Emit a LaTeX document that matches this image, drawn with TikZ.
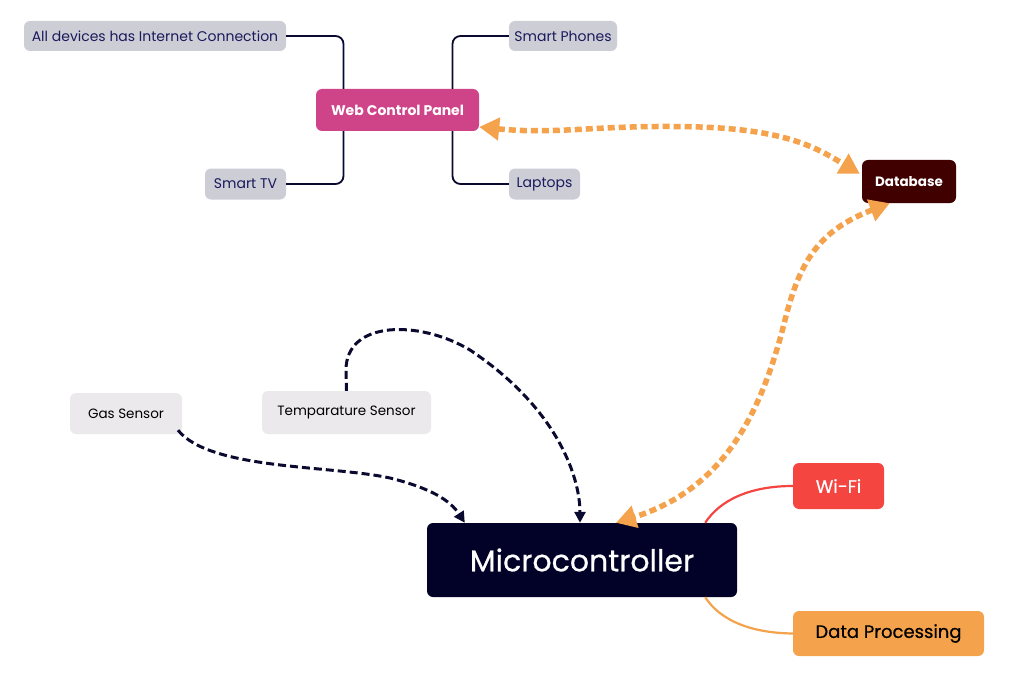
\documentclass[tikz,border=0pt]{standalone}
\usepackage{fontspec}
\setmainfont{Poppins}
\usetikzlibrary{arrows.meta}
\definecolor{navy}{HTML}{0A0A30}
\definecolor{gbox}{HTML}{CDCDD6}
\definecolor{lbox}{HTML}{EBE9EC}
\definecolor{gtext}{HTML}{1A1A5C}
\definecolor{wcp}{HTML}{CF4389}
\definecolor{dbc}{HTML}{400000}
\definecolor{mcc}{HTML}{020228}
\definecolor{wifi}{HTML}{F44541}
\definecolor{orng}{HTML}{F5A24D}
\newfontfamily\medfont{Poppins}[FakeBold=0.6]
\tikzset{
  box/.style={rectangle, rounded corners=6pt, inner sep=0pt, align=center},
  gray/.style={box, fill=gbox, text=gtext, font=\fontsize{14}{16}\selectfont},
  sens/.style={box, fill=lbox, text=black, font=\fontsize{13.5}{16}\selectfont},
  branch/.style={draw=navy, line width=1.8pt, rounded corners=8pt},
  odash/.style={draw=orng, line width=5.5pt, dash pattern=on 7pt off 4pt, {Triangle[length=20pt,width=22pt]}-{Triangle[length=20pt,width=22pt]}},
  ndash/.style={draw=navy, line width=3pt, dash pattern=on 8pt off 4pt, -{Triangle[length=11pt,width=11pt]}},
}
\begin{document}
\begin{tikzpicture}[x=1pt,y=-1pt]
\useasboundingbox (0,0) rectangle (1020,698);
\node[gray, minimum width=262pt, minimum height=30pt] (all) at (155,36) {All devices has Internet Connection};
\node[gray, minimum width=108pt, minimum height=30pt] (phones) at (563,36) {Smart Phones};
\node[gray, minimum width=81pt, minimum height=31pt] (tv) at (245.5,184) {Smart TV};
\node[gray, minimum width=71pt, minimum height=31pt] (laptops) at (544.5,184) {Laptops};
\node[box, fill=wcp, text=white, font=\fontsize{14}{16}\selectfont\bfseries, minimum width=163pt, minimum height=42pt] (wcp) at (397.5,110) {Web Control Panel};
\node[box, fill=dbc, text=white, font=\fontsize{13.5}{16}\selectfont\bfseries, minimum width=94pt, minimum height=43pt] (db) at (909,181.5) {Database};
\node[sens, minimum width=112pt, minimum height=41pt] (gas) at (126,413.5) {Gas Sensor};
\node[sens, minimum width=169pt, minimum height=43pt] (temp) at (346.5,412.5) {Temparature Sensor};
\node[box, fill=mcc, text=white, font=\medfont\fontsize{30}{34}\selectfont, minimum width=310pt, minimum height=74pt] (mc) at (582,560) {Microcontroller};
\node[box, fill=wifi, text=white, font=\medfont\fontsize{18}{20}\selectfont, minimum width=91pt, minimum height=46pt] (wifi) at (838.5,486) {Wi-Fi};
\node[box, fill=orng, text=black, font=\medfont\fontsize{18}{20}\selectfont, minimum width=191pt, minimum height=45pt] (dp) at (888.5,633.5) {Data Processing};

% branches
\draw[branch] ([xshift=-54pt]wcp.north) |- (all.east);
\draw[branch] ([xshift=-54pt]wcp.south) |- (tv.east);
\draw[branch] ([xshift=55pt]wcp.north) |- (phones.west);
\draw[branch] ([xshift=55pt]wcp.south) |- (laptops.west);

% orange bidirectional
\draw[odash] ([yshift=-17pt]wcp.east) .. controls (560,135) and (600,124) .. (700,127) .. controls (790,130) and (820,150) .. ([xshift=-2pt,yshift=-14pt]db.north west);
\draw[odash] ([xshift=28pt]db.south west) .. controls (820,230) and (800,260) .. (785,320) .. controls (760,420) and (720,490) .. ([xshift=34pt]mc.north);

% sensors
\draw[ndash] ([xshift=52pt,yshift=4pt]gas.south) .. controls (210,470) and (330,465) .. (390,478) .. controls (430,488) and (450,500) .. ([xshift=38pt]mc.north west);
\draw[ndash] (temp.north) -- (346,370) .. controls (346,320) and (420,320) .. (470,350) .. controls (560,410) and (580,480) .. ([xshift=-2pt]mc.north);

% wifi, data processing
\draw[draw=wifi, line width=2.2pt] ([xshift=-32pt]mc.north east) .. controls (720,500) and (750,486) .. (wifi.west);
\draw[draw=orng, line width=2.2pt] ([xshift=-32pt]mc.south east) .. controls (720,620) and (750,633) .. (dp.west);
\end{tikzpicture}
\end{document}
